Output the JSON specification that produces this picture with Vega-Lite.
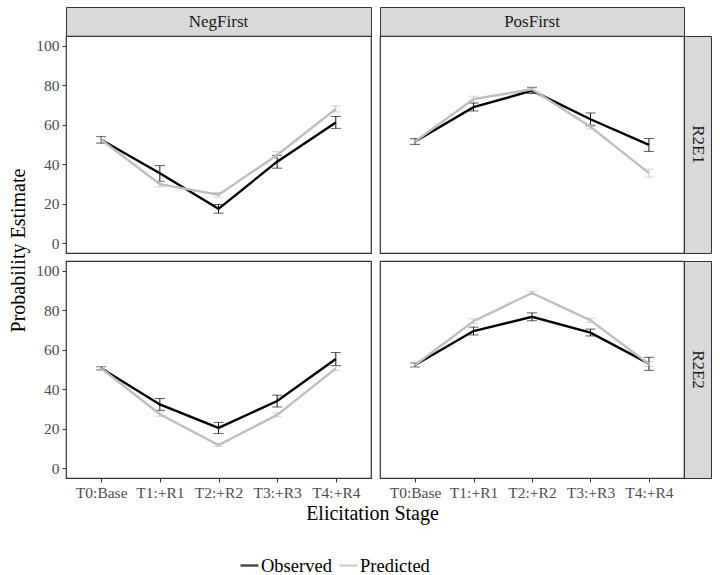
{
  "$schema": "https://vega.github.io/schema/vega-lite/v6.json",
  "padding": {"left": 7, "top": 6, "right": 6, "bottom": 0},
  "background": "white",
  "datasets": {
    "d": [
      {"cond": "NegFirst", "elic": "R2E1", "stage": "T0:Base", "type": "Observed", "mean": 52.4, "lo": 50.7, "hi": 54.1},
      {"cond": "NegFirst", "elic": "R2E1", "stage": "T1:+R1", "type": "Observed", "mean": 35.4, "lo": 31.3, "hi": 39.3},
      {"cond": "NegFirst", "elic": "R2E1", "stage": "T2:+R2", "type": "Observed", "mean": 17.4, "lo": 15.2, "hi": 19.6},
      {"cond": "NegFirst", "elic": "R2E1", "stage": "T3:+R3", "type": "Observed", "mean": 41.3, "lo": 38.0, "hi": 44.5},
      {"cond": "NegFirst", "elic": "R2E1", "stage": "T4:+R4", "type": "Observed", "mean": 61.1, "lo": 58.2, "hi": 64.2},
      {"cond": "NegFirst", "elic": "R2E1", "stage": "T0:Base", "type": "Predicted", "mean": 52.4, "lo": 51.0, "hi": 53.8},
      {"cond": "NegFirst", "elic": "R2E1", "stage": "T1:+R1", "type": "Predicted", "mean": 29.9, "lo": 28.5, "hi": 31.4},
      {"cond": "NegFirst", "elic": "R2E1", "stage": "T2:+R2", "type": "Predicted", "mean": 24.5, "lo": 23.3, "hi": 25.7},
      {"cond": "NegFirst", "elic": "R2E1", "stage": "T3:+R3", "type": "Predicted", "mean": 44.7, "lo": 43.0, "hi": 46.5},
      {"cond": "NegFirst", "elic": "R2E1", "stage": "T4:+R4", "type": "Predicted", "mean": 68.0, "lo": 66.5, "hi": 69.6},
      {"cond": "PosFirst", "elic": "R2E1", "stage": "T0:Base", "type": "Observed", "mean": 51.5, "lo": 50.0, "hi": 53.0},
      {"cond": "PosFirst", "elic": "R2E1", "stage": "T1:+R1", "type": "Observed", "mean": 68.9, "lo": 67.0, "hi": 71.0},
      {"cond": "PosFirst", "elic": "R2E1", "stage": "T2:+R2", "type": "Observed", "mean": 77.3, "lo": 75.8, "hi": 78.8},
      {"cond": "PosFirst", "elic": "R2E1", "stage": "T3:+R3", "type": "Observed", "mean": 62.8, "lo": 59.5, "hi": 66.0},
      {"cond": "PosFirst", "elic": "R2E1", "stage": "T4:+R4", "type": "Observed", "mean": 49.8, "lo": 46.5, "hi": 53.0},
      {"cond": "PosFirst", "elic": "R2E1", "stage": "T0:Base", "type": "Predicted", "mean": 51.5, "lo": 50.3, "hi": 52.7},
      {"cond": "PosFirst", "elic": "R2E1", "stage": "T1:+R1", "type": "Predicted", "mean": 73.0, "lo": 71.5, "hi": 74.5},
      {"cond": "PosFirst", "elic": "R2E1", "stage": "T2:+R2", "type": "Predicted", "mean": 78.0, "lo": 76.8, "hi": 79.2},
      {"cond": "PosFirst", "elic": "R2E1", "stage": "T3:+R3", "type": "Predicted", "mean": 59.0, "lo": 57.8, "hi": 60.2},
      {"cond": "PosFirst", "elic": "R2E1", "stage": "T4:+R4", "type": "Predicted", "mean": 35.5, "lo": 33.5, "hi": 37.5},
      {"cond": "NegFirst", "elic": "R2E2", "stage": "T0:Base", "type": "Observed", "mean": 50.6, "lo": 49.8, "hi": 51.4},
      {"cond": "NegFirst", "elic": "R2E2", "stage": "T1:+R1", "type": "Observed", "mean": 32.3, "lo": 29.3, "hi": 35.3},
      {"cond": "NegFirst", "elic": "R2E2", "stage": "T2:+R2", "type": "Observed", "mean": 20.4, "lo": 17.5, "hi": 23.2},
      {"cond": "NegFirst", "elic": "R2E2", "stage": "T3:+R3", "type": "Observed", "mean": 34.0, "lo": 31.0, "hi": 37.0},
      {"cond": "NegFirst", "elic": "R2E2", "stage": "T4:+R4", "type": "Observed", "mean": 55.3, "lo": 52.0, "hi": 58.6},
      {"cond": "NegFirst", "elic": "R2E2", "stage": "T0:Base", "type": "Predicted", "mean": 50.6, "lo": 49.8, "hi": 51.4},
      {"cond": "NegFirst", "elic": "R2E2", "stage": "T1:+R1", "type": "Predicted", "mean": 27.3, "lo": 26.3, "hi": 28.3},
      {"cond": "NegFirst", "elic": "R2E2", "stage": "T2:+R2", "type": "Predicted", "mean": 11.7, "lo": 11.0, "hi": 12.4},
      {"cond": "NegFirst", "elic": "R2E2", "stage": "T3:+R3", "type": "Predicted", "mean": 27.0, "lo": 26.0, "hi": 28.0},
      {"cond": "NegFirst", "elic": "R2E2", "stage": "T4:+R4", "type": "Predicted", "mean": 50.6, "lo": 49.5, "hi": 51.7},
      {"cond": "PosFirst", "elic": "R2E2", "stage": "T0:Base", "type": "Observed", "mean": 52.3, "lo": 51.3, "hi": 53.3},
      {"cond": "PosFirst", "elic": "R2E2", "stage": "T1:+R1", "type": "Observed", "mean": 69.5, "lo": 67.5, "hi": 71.5},
      {"cond": "PosFirst", "elic": "R2E2", "stage": "T2:+R2", "type": "Observed", "mean": 76.7, "lo": 74.7, "hi": 78.7},
      {"cond": "PosFirst", "elic": "R2E2", "stage": "T3:+R3", "type": "Observed", "mean": 68.7, "lo": 67.0, "hi": 70.5},
      {"cond": "PosFirst", "elic": "R2E2", "stage": "T4:+R4", "type": "Observed", "mean": 53.0, "lo": 49.6, "hi": 56.2},
      {"cond": "PosFirst", "elic": "R2E2", "stage": "T0:Base", "type": "Predicted", "mean": 52.3, "lo": 51.5, "hi": 53.1},
      {"cond": "PosFirst", "elic": "R2E2", "stage": "T1:+R1", "type": "Predicted", "mean": 74.5, "lo": 73.3, "hi": 75.7},
      {"cond": "PosFirst", "elic": "R2E2", "stage": "T2:+R2", "type": "Predicted", "mean": 88.8, "lo": 88.0, "hi": 89.6},
      {"cond": "PosFirst", "elic": "R2E2", "stage": "T3:+R3", "type": "Predicted", "mean": 74.9, "lo": 73.8, "hi": 76.0},
      {"cond": "PosFirst", "elic": "R2E2", "stage": "T4:+R4", "type": "Predicted", "mean": 52.8, "lo": 51.5, "hi": 54.1}
    ]
  },
  "columns": 4,
  "spacing": 0,
  "align": "each",
  "bounds": "flush",
  "resolve": {"scale": {"color": "shared"}, "legend": {"color": "shared"}},
  "concat": [
    {"width": 305, "height": 29, "data": {"values": [{"label": "NegFirst"}]},
     "view": {"fill": "#d9d9d9", "stroke": "#333333"},
     "mark": {"type": "text", "font": "Liberation Serif", "fontSize": 17, "color": "#1a1a1a"},
     "encoding": {"text": {"field": "label"}}},
    {"width": 9, "height": 8, "data": {"values": []}, "mark": "text", "view": {"stroke": null}},
    {"width": 304, "height": 29, "data": {"values": [{"label": "PosFirst"}]},
     "view": {"fill": "#d9d9d9", "stroke": "#333333"},
     "mark": {"type": "text", "font": "Liberation Serif", "fontSize": 17, "color": "#1a1a1a"},
     "encoding": {"text": {"field": "label"}}},
    {"width": 9, "height": 8, "data": {"values": []}, "mark": "text", "view": {"stroke": null}},

    {"width": 305, "height": 217, "data": {"name": "d"},
     "transform": [{"filter": "datum.cond == 'NegFirst' && datum.elic == 'R2E1'"}],
     "encoding": {
       "x": {"field": "stage", "type": "ordinal", "scale": {"type": "point", "padding": 0.6}, "axis": null},
       "color": {"field": "type", "type": "nominal", "scale": {"domain": ["Observed", "Predicted"], "range": ["#000000", "#bebebe"]},
                 "legend": {"orient": "none", "direction": "horizontal", "legendX": 173, "legendY": 548}}
     },
     "layer": [
       {"mark": {"type": "errorbar", "ticks": {"size": 10}, "thickness": 0.9},
        "encoding": {"y": {"field": "lo", "type": "quantitative", "scale": {"domain": [-5, 105], "nice": false, "zero": false},
                           "axis": {"values": [0, 20, 40, 60, 80, 100], "title": "Probability Estimate", "titleX": -38, "titleY": 214}},
                     "y2": {"field": "hi"}}},
       {"mark": {"type": "line", "strokeWidth": 2.4},
        "encoding": {"y": {"field": "mean", "type": "quantitative"}}}
     ]},
    {"width": 9, "height": 8, "data": {"values": []}, "mark": "text", "view": {"stroke": null}},
    {"width": 304, "height": 217, "data": {"name": "d"},
     "transform": [{"filter": "datum.cond == 'PosFirst' && datum.elic == 'R2E1'"}],
     "encoding": {
       "x": {"field": "stage", "type": "ordinal", "scale": {"type": "point", "padding": 0.6}, "axis": null},
       "color": {"field": "type", "type": "nominal", "scale": {"domain": ["Observed", "Predicted"], "range": ["#000000", "#bebebe"]}}
     },
     "layer": [
       {"mark": {"type": "errorbar", "ticks": {"size": 10}, "thickness": 0.9},
        "encoding": {"y": {"field": "lo", "type": "quantitative", "scale": {"domain": [-5, 105], "nice": false, "zero": false}, "axis": null},
                     "y2": {"field": "hi"}}},
       {"mark": {"type": "line", "strokeWidth": 2.4},
        "encoding": {"y": {"field": "mean", "type": "quantitative"}}}
     ]},
    {"width": 27, "height": 217, "data": {"values": [{"label": "R2E1"}]},
     "view": {"fill": "#d9d9d9", "stroke": "#333333"},
     "mark": {"type": "text", "font": "Liberation Serif", "fontSize": 17, "color": "#1a1a1a", "angle": 90},
     "encoding": {"text": {"field": "label"}}},

    {"width": 9, "height": 8, "data": {"values": []}, "mark": "text", "view": {"stroke": null}},
    {"width": 9, "height": 8, "data": {"values": []}, "mark": "text", "view": {"stroke": null}},
    {"width": 9, "height": 8, "data": {"values": []}, "mark": "text", "view": {"stroke": null}},
    {"width": 9, "height": 8, "data": {"values": []}, "mark": "text", "view": {"stroke": null}},

    {"width": 305, "height": 217, "data": {"name": "d"},
     "transform": [{"filter": "datum.cond == 'NegFirst' && datum.elic == 'R2E2'"}],
     "encoding": {
       "x": {"field": "stage", "type": "ordinal", "scale": {"type": "point", "padding": 0.6},
             "axis": {"labelAngle": 0, "title": "Elicitation Stage", "titleX": 306, "titlePadding": 3}},
       "color": {"field": "type", "type": "nominal", "scale": {"domain": ["Observed", "Predicted"], "range": ["#000000", "#bebebe"]}}
     },
     "layer": [
       {"mark": {"type": "errorbar", "ticks": {"size": 10}, "thickness": 0.9},
        "encoding": {"y": {"field": "lo", "type": "quantitative", "scale": {"domain": [-5, 105], "nice": false, "zero": false},
                           "axis": {"values": [0, 20, 40, 60, 80, 100], "title": null}},
                     "y2": {"field": "hi"}}},
       {"mark": {"type": "line", "strokeWidth": 2.4},
        "encoding": {"y": {"field": "mean", "type": "quantitative"}}}
     ]},
    {"width": 9, "height": 8, "data": {"values": []}, "mark": "text", "view": {"stroke": null}},
    {"width": 304, "height": 217, "data": {"name": "d"},
     "transform": [{"filter": "datum.cond == 'PosFirst' && datum.elic == 'R2E2'"}],
     "encoding": {
       "x": {"field": "stage", "type": "ordinal", "scale": {"type": "point", "padding": 0.6},
             "axis": {"labelAngle": 0, "title": null}},
       "color": {"field": "type", "type": "nominal", "scale": {"domain": ["Observed", "Predicted"], "range": ["#000000", "#bebebe"]}}
     },
     "layer": [
       {"mark": {"type": "errorbar", "ticks": {"size": 10}, "thickness": 0.9},
        "encoding": {"y": {"field": "lo", "type": "quantitative", "scale": {"domain": [-5, 105], "nice": false, "zero": false}, "axis": null},
                     "y2": {"field": "hi"}}},
       {"mark": {"type": "line", "strokeWidth": 2.4},
        "encoding": {"y": {"field": "mean", "type": "quantitative"}}}
     ]},
    {"width": 27, "height": 217, "data": {"values": [{"label": "R2E2"}]},
     "view": {"fill": "#d9d9d9", "stroke": "#333333"},
     "mark": {"type": "text", "font": "Liberation Serif", "fontSize": 17, "color": "#1a1a1a", "angle": 90},
     "encoding": {"text": {"field": "label"}}}
  ],
  "config": {
    "font": "Liberation Serif",
    "text": {"font": "Liberation Serif"},
    "view": {"stroke": "#333333", "strokeWidth": 1.2},
    "axis": {
      "grid": false, "domain": false,
      "tickColor": "#333333", "tickSize": 4, "tickWidth": 1,
      "labelFont": "Liberation Serif", "labelFontSize": 15.5, "labelColor": "#4d4d4d", "labelPadding": 3,
      "titleFont": "Liberation Serif", "titleFontSize": 20, "titleFontWeight": "normal", "titleColor": "#000000"
    },
    "legend": {
      "direction": "horizontal", "title": null,
      "symbolType": "stroke", "symbolStrokeWidth": 2.5, "symbolSize": 324,
      "labelFont": "Liberation Serif", "labelFontSize": 18.5, "labelColor": "#000000",
      "labelOffset": 1, "columnPadding": 2, "padding": 0
    }
  }
}
